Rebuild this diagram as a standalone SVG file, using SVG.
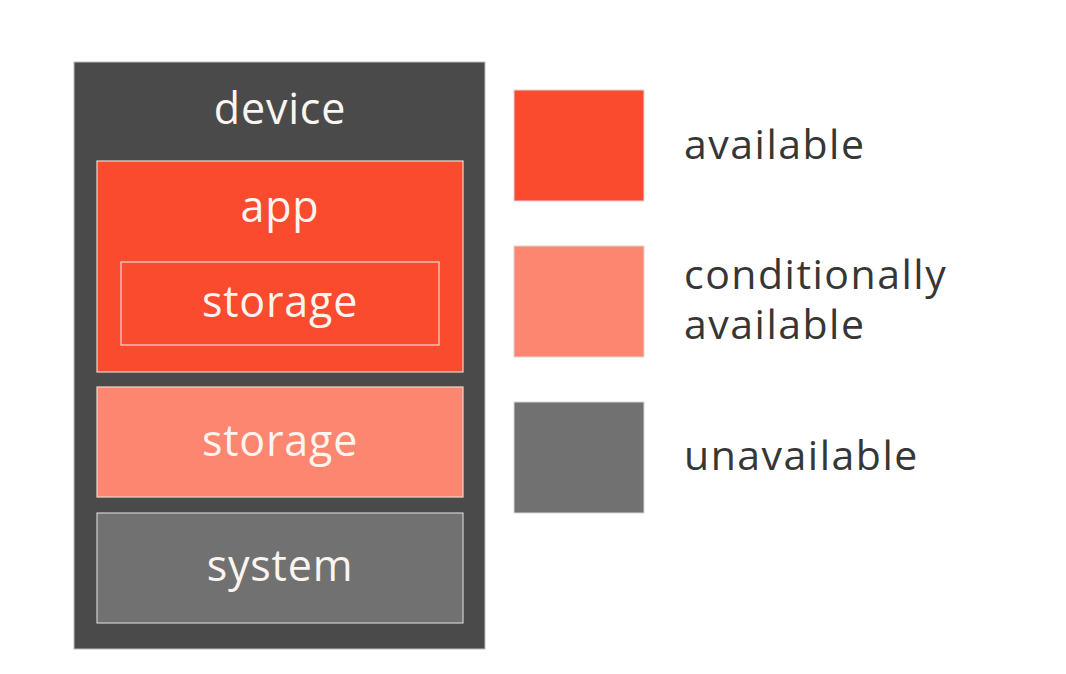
<svg xmlns="http://www.w3.org/2000/svg" width="1066" height="674" viewBox="0 0 1066 674">
  <style>
    .lbl { font-family: "Open Sans", "Noto Sans", "Liberation Sans", sans-serif; font-size: 43px; letter-spacing: 0.8px; fill: #fbf4ef; text-anchor: middle; }
    .leg { font-family: "Open Sans", "Noto Sans", "Liberation Sans", sans-serif; font-size: 41px; letter-spacing: 1.5px; fill: #363636; }
    .avail { fill: #fa4b2f; }
    .cond { fill: #fd8670; }
    .unav { fill: #717171; }
    .edge { stroke: #f3d6cd; stroke-width: 1.2; }
    .swatch { stroke: #d8d8d8; stroke-width: 1; }
  </style>
  <rect width="1066" height="674" fill="#ffffff"/>

  <!-- device stack -->
  <g id="device">
    <rect x="74" y="62" width="411" height="587" fill="#4a4a4a" stroke="#bdbdbd" stroke-width="1"/>
    <text class="lbl" x="280" y="124" font-size="45" letter-spacing="1.2">device</text>
  </g>
  <g id="app">
    <rect class="avail edge" x="97" y="161" width="366" height="211"/>
    <text class="lbl" x="280" y="222">app</text>
  </g>
  <g id="app-storage">
    <rect class="avail edge" x="121" y="262" width="318" height="83"/>
    <text class="lbl" x="280" y="317">storage</text>
  </g>
  <g id="storage">
    <rect class="cond edge" x="97" y="387" width="366" height="110"/>
    <text class="lbl" x="280" y="456">storage</text>
  </g>
  <g id="system">
    <rect class="unav" x="97" y="513" width="366" height="110" stroke="#cfcfcf" stroke-width="1.2"/>
    <text class="lbl" x="280" y="581">system</text>
  </g>

  <!-- legend -->
  <g id="legend-available">
    <rect class="avail swatch" x="514" y="90" width="130" height="111"/>
    <text class="leg" x="684" y="159">available</text>
  </g>
  <g id="legend-conditional">
    <rect class="cond swatch" x="514" y="246" width="130" height="111"/>
    <text class="leg" x="684" y="289">conditionally</text>
    <text class="leg" x="684" y="339">available</text>
  </g>
  <g id="legend-unavailable">
    <rect class="unav swatch" x="514" y="402" width="130" height="111"/>
    <text class="leg" x="684" y="470">unavailable</text>
  </g>

  <g id="connectors"/>
</svg>
